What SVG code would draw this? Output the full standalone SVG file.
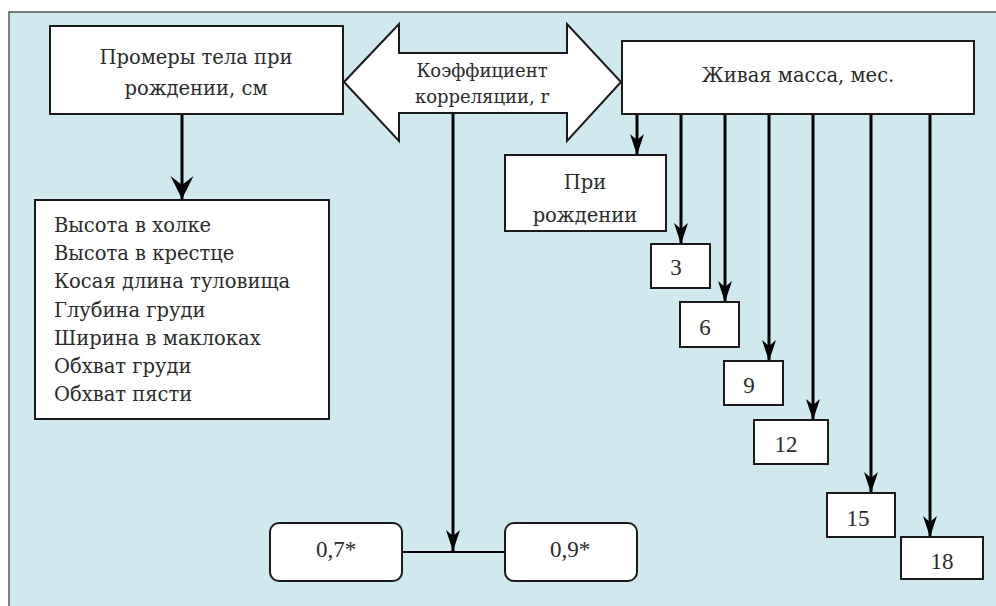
<svg xmlns="http://www.w3.org/2000/svg" width="996" height="606" viewBox="0 0 996 606">
<style>
  .box { fill: #ffffff; stroke: #1a1a1a; stroke-width: 2; }
  .t { font-family: 'DejaVu Serif', serif; font-size: 19.5px; fill: #2b2b2b; }
  .ts { font-family: 'DejaVu Serif', serif; font-size: 18px; fill: #2b2b2b; }
  .n { font-family: 'Liberation Serif', 'DejaVu Serif', serif; font-size: 23px; fill: #2b2b2b; }
  .c { text-anchor: middle; }
  .ln { stroke: #000; stroke-width: 3; fill: none; }
  .ln2 { stroke: #000; stroke-width: 2; fill: none; }
</style>
<defs>
  <marker id="ah" markerUnits="userSpaceOnUse" markerWidth="24" markerHeight="16" viewBox="-22 -8 24 16" refX="0" refY="0" orient="auto">
    <path d="M0,0 L-21,-7 L-15,0 L-21,7 Z" fill="#000"/>
  </marker>
  <marker id="ahL" markerUnits="userSpaceOnUse" markerWidth="26" markerHeight="26" viewBox="-24 -12 26 24" refX="0" refY="0" orient="auto">
    <path d="M0,0 L-23,-11.5 L-14,0 L-23,11.5 Z" fill="#000"/>
  </marker>
</defs>
<rect x="0" y="0" width="996" height="606" fill="#ffffff"/>
<rect x="9" y="12" width="1000" height="610" fill="#d0e9ee" stroke="#555" stroke-width="1.5"/>

<g id="connectors">
  <line class="ln" x1="182" y1="114" x2="182" y2="199" marker-end="url(#ahL)"/>
  <line class="ln" x1="453" y1="113" x2="453" y2="551" marker-end="url(#ah)"/>
  <line class="ln2" x1="402" y1="552" x2="505" y2="552"/>
  <line class="ln" x1="637" y1="114" x2="637" y2="155" marker-end="url(#ah)"/>
  <line class="ln" x1="681" y1="114" x2="681" y2="244" marker-end="url(#ah)"/>
  <line class="ln" x1="725" y1="114" x2="725" y2="302" marker-end="url(#ah)"/>
  <line class="ln" x1="769" y1="114" x2="769" y2="361" marker-end="url(#ah)"/>
  <line class="ln" x1="813" y1="114" x2="813" y2="420" marker-end="url(#ah)"/>
  <line class="ln" x1="871" y1="114" x2="871" y2="493" marker-end="url(#ah)"/>
  <line class="ln" x1="930" y1="114" x2="930" y2="537" marker-end="url(#ah)"/>
</g>

<g id="node-promery">
  <rect class="box" x="50" y="26" width="293" height="88"/>
  <text class="t c" x="196" y="64">Промеры тела при</text>
  <text class="t c" x="196" y="95">рождении, см</text>
</g>

<g id="node-korrelyatsiya">
  <polygon class="box" points="344,82 399,24 399,53 567,53 567,24 621,82 567,141 567,113 399,113 399,141"/>
  <text class="ts c" x="482" y="77">Коэффициент</text>
  <text class="ts c" x="482" y="103">корреляции, r</text>
</g>

<g id="node-zhivaya">
  <rect class="box" x="622" y="41" width="352" height="73"/>
  <text class="t c" x="798" y="82">Живая масса, мес.</text>
</g>

<g id="node-list">
  <rect class="box" x="35" y="200" width="294" height="219"/>
  <text class="t" x="54" y="232">Высота в холке</text>
  <text class="t" x="54" y="260">Высота в крестце</text>
  <text class="t" x="54" y="288">Косая длина туловища</text>
  <text class="t" x="54" y="317">Глубина груди</text>
  <text class="t" x="54" y="345">Ширина в маклоках</text>
  <text class="t" x="54" y="373">Обхват груди</text>
  <text class="t" x="54" y="401">Обхват пясти</text>
</g>

<g id="node-pri-rozhdenii">
  <rect class="box" x="505" y="155" width="161" height="76"/>
  <text class="t c" x="585" y="189">При</text>
  <text class="t c" x="585" y="222">рождении</text>
</g>

<g id="node-3">
  <rect class="box" x="651" y="244" width="59" height="44"/>
  <text class="n c" x="676" y="275">3</text>
</g>
<g id="node-6">
  <rect class="box" x="680" y="302" width="59" height="45"/>
  <text class="n c" x="705" y="335">6</text>
</g>
<g id="node-9">
  <rect class="box" x="724" y="361" width="59" height="44"/>
  <text class="n c" x="749" y="393">9</text>
</g>
<g id="node-12">
  <rect class="box" x="754" y="420" width="74" height="44"/>
  <text class="n c" x="786" y="452">12</text>
</g>
<g id="node-15">
  <rect class="box" x="827" y="493" width="68" height="44"/>
  <text class="n c" x="858" y="526">15</text>
</g>
<g id="node-18">
  <rect class="box" x="901" y="537" width="82" height="42"/>
  <text class="n c" x="942" y="569">18</text>
</g>

<g id="node-07">
  <rect class="box" x="270" y="523" width="132" height="58" rx="9"/>
  <text class="n c" x="336" y="557">0,7*</text>
</g>
<g id="node-09">
  <rect class="box" x="505" y="523" width="132" height="58" rx="9"/>
  <text class="n c" x="570" y="557">0,9*</text>
</g>
</svg>
